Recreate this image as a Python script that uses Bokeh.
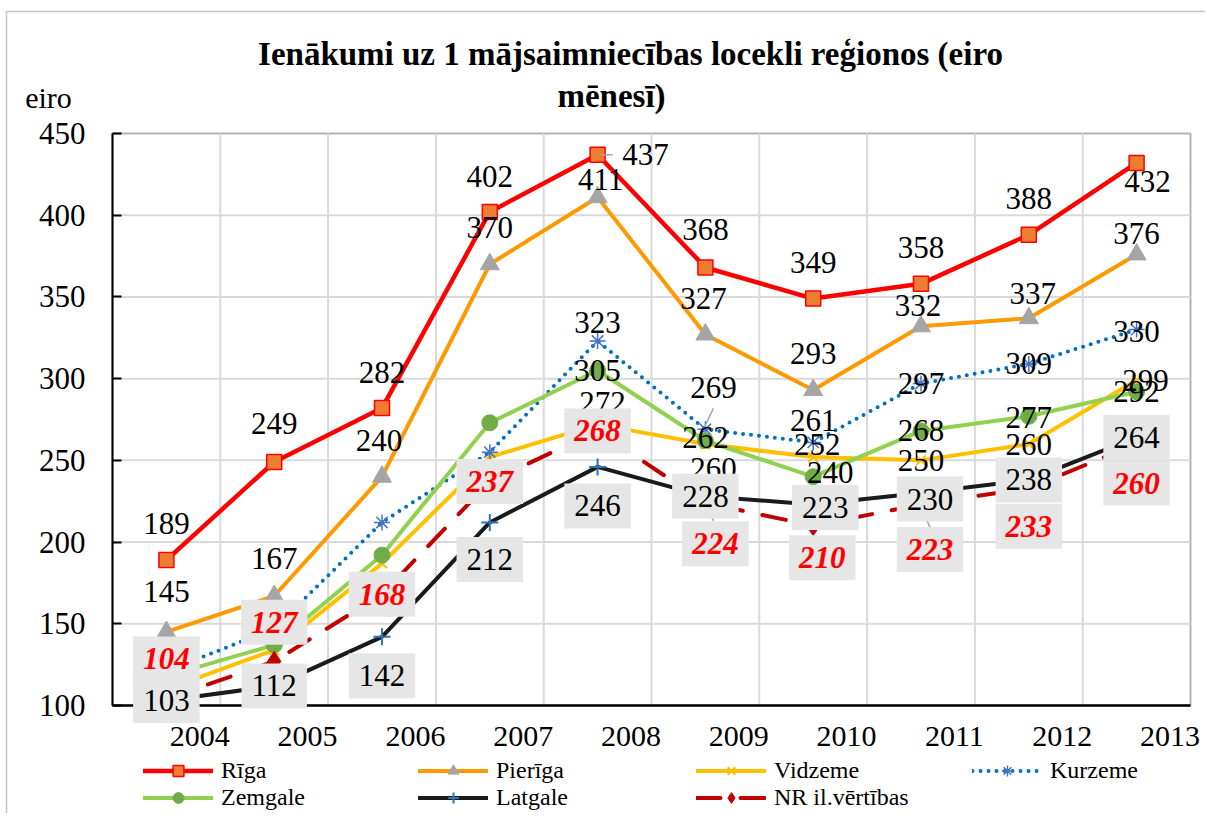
from bokeh.plotting import figure
from bokeh.models import (FixedTicker, Label, Legend, LegendItem, BoxAnnotation, Range1d,
                          LinearAxis)
from bokeh.embed import file_html
from bokeh.resources import INLINE

# ---------------- data ----------------
years = ["2004", "2005", "2006", "2007", "2008", "2009", "2010", "2011", "2012", "2013"]
riga    = [189, 249, 282, 402, 437, 368, 349, 358, 388, 432]
pieriga = [145, 167, 240, 370, 411, 327, 293, 332, 337, 376]
vidzeme = [110, 134, 187, 252, 272, 260, 252, 250, 260, 299]
kurzeme = [121, 147, 212, 255, 323, 269, 261, 297, 309, 330]
zemgale = [118, 137, 192, 273, 305, 262, 240, 268, 277, 292]
latgale = [103, 112, 142, 212, 246, 228, 223, 230, 238, 264]
nr_il   = [104, 127, 168, 237, 268, 224, 210, 223, 233, 260]
series_names = ["Rīga", "Pierīga", "Vidzeme", "Kurzeme", "Zemgale", "Latgale", "NR il.vērtības"]
series_values = [riga, pieriga, vidzeme, kurzeme, zemgale, latgale, nr_il]
# which points carry a value label
shown_riga = [True] * 10
shown_pieriga = [True] * 10
shown_vidzeme = [False] * 4 + [True] * 6
shown_kurzeme = [False] * 4 + [True] * 6
shown_zemgale = [False] * 4 + [True] * 6
shown_latgale = [True] * 10
shown_nr = [True] * 10
series_shown = [shown_riga, shown_pieriga, shown_vidzeme, shown_kurzeme,
                shown_zemgale, shown_latgale, shown_nr]
title_lines = ["Ienākumi uz 1 mājsaimniecības locekli reģionos (eiro", "mēnesī)"]
y_unit = "eiro"
y_min, y_max = 100, 450
y_ticks = [100, 150, 200, 250, 300, 350, 400, 450]

# ---------------- layout / styles ----------------
W, H = 1205, 813
PL, PR, PT, PB = 112, 1190, 133, 705          # plot-area edges in canvas px
n = len(years)
px_x = (PR - PL) / n
px_y = (PB - PT) / (y_max - y_min)
FONT = "Liberation Serif"
LABEL_SHIFT = 0.31   # year labels sit right of the point (in category widths)
styles = [
    dict(color="#FF0000", width=4.5, dash="solid", marker="square", size=15, fill="#ED7D31", mline="#FF0000", mlw=1.5),
    dict(color="#FF9900", width=4, dash="solid", marker="triangle", size=19, fill="#A5A5A5", mline="#A5A5A5", mlw=1),
    dict(color="#FFC000", width=4, dash="solid", marker="x", size=14, fill="#FFC000", mline="#FFC000", mlw=2),
    dict(color="#0070C0", width=4, dash="0 8", marker="asterisk", size=16, fill="#4472C4", mline="#4472C4", mlw=1.5),
    dict(color="#92D050", width=4, dash="solid", marker="circle", size=16, fill="#70AD47", mline="#70AD47", mlw=1),
    dict(color="#1A1A1A", width=4, dash="solid", marker="cross", size=17, fill="#2E75B6", mline="#2E75B6", mlw=2),
    dict(color="#C00000", width=4, dash="24 20", marker="diamond", size=20, fill="#C00000", mline="#C00000", mlw=1),
]
# label offsets in screen px (dx right, dy down)
offsets = [
    [(0, -37), (0, -38), (0, -36), (0, -35), (48, 0), (0, -38), (0, -36), (0, -36), (0, -36), (11, 19)],
    [(0, -40), (0, -38), (-3, -36), (0, -37), (3, -18), (-2, -36), (0, -37), (-3, -21), (4, -25), (0, -21)],
    [None, None, None, None, (5, -22), (8, 24), (4, -13), (0, 0), (0, 0), (9, 0)],
    [None, None, None, None, (0, -19), (8, -42), (0, -22), (0, 0), (0, 0), (0, 2)],
    [None, None, None, None, (0, 0), (0, -3), (17, -4), (0, 0), (0, 1), (0, 0)],
    [(0, 0), (0, 0), (0, 39), (0, 37), (0, 39), (0, 0), (12, 3), (9, 6), (0, 0), (0, 0)],
    [(0, -40), (0, -39), (0, 0), (0, 0), (0, 0), (10, 41), (9, 32), (9, 45), (0, 38), (0, 39)],
]
# leader lines: (series, point, (dx0, dy0), (dx1, dy1)) in screen px from the point
leaders = [(0, 4, (3, 0), (15, 0)), (3, 5, (-2, 0), (8, -21)),
           (6, 5, (1, 1), (8, 18)), (6, 7, (1, 4), (9, 23))]
label_bg = [None, None, None, None, None, "#E6E6E6", "#E6E6E6"]
label_color = ["black"] * 6 + ["#FF0000"]
label_style = ["normal"] * 6 + ["bold italic"]

x_range = Range1d(0 - PL / px_x, n + (W - PR) / px_x)
y_range = Range1d(y_min - (H - PB) / px_y, y_max + PT / px_y)

p = figure(width=W, height=H, x_range=x_range, y_range=y_range,
           x_axis_type=None, y_axis_type=None, title=None,
           output_backend="svg", toolbar_location=None, min_border=0)
p.background_fill_color = "white"
p.border_fill_color = "white"
p.outline_line_color = None

xs = [i + 0.5 for i in range(n)]

# grid lines (from the tick positions), drawn only inside the plot area
grid_x = list(range(1, n))
grid_y = y_ticks[1:-1]
p.segment(x0=grid_x, y0=[y_min] * len(grid_x), x1=grid_x, y1=[y_max] * len(grid_x),
          line_color="#D9D9D9", line_width=2)
p.segment(x0=[0] * len(grid_y), y0=grid_y, x1=[n] * len(grid_y), y1=grid_y,
          line_color="#D9D9D9", line_width=2)

# plot-area border
p.add_layout(BoxAnnotation(left=0, right=n, bottom=y_min, top=y_max, fill_alpha=0,
                           line_color="black", line_width=2, level="underlay"))

# axes placed at the plot-area edges
x_tick_pos = [i + 0.5 + LABEL_SHIFT for i in range(n)]
xaxis = LinearAxis(fixed_location=y_min, bounds=(0, n), ticker=FixedTicker(ticks=x_tick_pos))
xaxis.major_label_overrides = {t: y for t, y in zip(x_tick_pos, years)}
xaxis.major_tick_in = 0
xaxis.major_tick_out = 0
xaxis.minor_tick_line_color = None
xaxis.axis_line_color = "black"
xaxis.axis_line_width = 2.5
xaxis.major_label_standoff = 21
xaxis.major_label_text_font = FONT
xaxis.major_label_text_font_size = "30px"
xaxis.major_label_text_color = "black"
p.add_layout(xaxis, "below")

yaxis = LinearAxis(fixed_location=0, bounds=(y_min, y_max), ticker=FixedTicker(ticks=y_ticks))
yaxis.major_tick_in = 9
yaxis.major_tick_out = 0
yaxis.major_tick_line_width = 2
yaxis.major_tick_line_color = "black"
yaxis.minor_tick_line_color = None
yaxis.axis_line_color = "black"
yaxis.axis_line_width = 2
yaxis.major_label_standoff = 27
yaxis.major_label_text_font = FONT
yaxis.major_label_text_font_size = "31px"
yaxis.major_label_text_color = "black"
p.add_layout(yaxis, "left")

# series
renderers = {}
for name, vals, st in zip(series_names, series_values, styles):
    lr = p.line(xs, vals, line_color=st["color"], line_width=st["width"], line_dash=st["dash"],
                line_cap="round", line_join="round")
    sr = p.scatter(xs, vals, marker=st["marker"], size=st["size"], fill_color=st["fill"],
                   line_color=st["mline"], line_width=st["mlw"])
    renderers[name] = [lr, sr]

# leader lines of moved labels
lx0, ly0, lx1, ly1 = [], [], [], []
for k, i, (a, b), (c, d) in leaders:
    v = series_values[k][i]
    lx0.append(xs[i] + a / px_x); ly0.append(v - b / px_y)
    lx1.append(xs[i] + c / px_x); ly1.append(v - d / px_y)
p.segment(x0=lx0, y0=ly0, x1=lx1, y1=ly1, line_color="#A6A6A6", line_width=1.5)

# value labels
for k, (vals, shown) in enumerate(zip(series_values, series_shown)):
    for i, v in enumerate(vals):
        if not shown[i]:
            continue
        dx, dy = offsets[k][i]
        kw = dict(x=xs[i], y=v, x_offset=dx, y_offset=-dy, text=str(v), anchor="center",
                  text_font=FONT, text_font_size="31px", text_color=label_color[k],
                  text_font_style=label_style[k])
        if label_bg[k]:
            kw.update(background_fill_color=label_bg[k], padding=(10, 12))
        p.add_layout(Label(**kw))

# title and unit (centres, screen px measured from the canvas bottom-left)
p.add_layout(Label(x=630, y=H - 53, x_units="screen", y_units="screen", text=title_lines[0],
                   text_align="center", text_baseline="middle", text_font=FONT,
                   text_font_size="33px", text_font_style="bold", text_color="black"))
p.add_layout(Label(x=611, y=H - 95, x_units="screen", y_units="screen", text=title_lines[1],
                   text_align="center", text_baseline="middle", text_font=FONT,
                   text_font_size="33px", text_font_style="bold", text_color="black"))
p.add_layout(Label(x=48, y=H - 97, x_units="screen", y_units="screen", text=y_unit,
                   text_align="center", text_baseline="middle", text_font=FONT,
                   text_font_size="30px", text_color="black"))

# legend: one entry per cell of a 4 x 2 grid
legend_order = ["Rīga", "Pierīga", "Vidzeme", "Kurzeme", "Zemgale", "Latgale", "NR il.vērtības"]
legend_col_x = [143, 418, 696, 972]
legend_row_y = [770, 797]      # row centres, canvas px from top
ITEM_H = 27
for j, nm in enumerate(legend_order):
    lx = legend_col_x[j % 4]
    cy = legend_row_y[j // 4]
    lg = Legend(items=[LegendItem(label=nm, renderers=renderers[nm])],
                location=(lx, H - (cy + ITEM_H / 2)), orientation="vertical",
                glyph_width=70, glyph_height=ITEM_H, label_height=ITEM_H, label_standoff=8,
                spacing=0, padding=0, margin=0, background_fill_alpha=0, border_line_alpha=0,
                label_text_font=FONT, label_text_font_size="24px", label_text_color="black")
    p.add_layout(lg)

# outer chart border
p.add_layout(BoxAnnotation(left=6, right=W + 20, top=H - 11, bottom=-20,
                           left_units="screen", right_units="screen", top_units="screen",
                           bottom_units="screen", fill_alpha=0, line_color="#404040", line_width=1.5))

open("out.html", "w").write(file_html(p, INLINE))
